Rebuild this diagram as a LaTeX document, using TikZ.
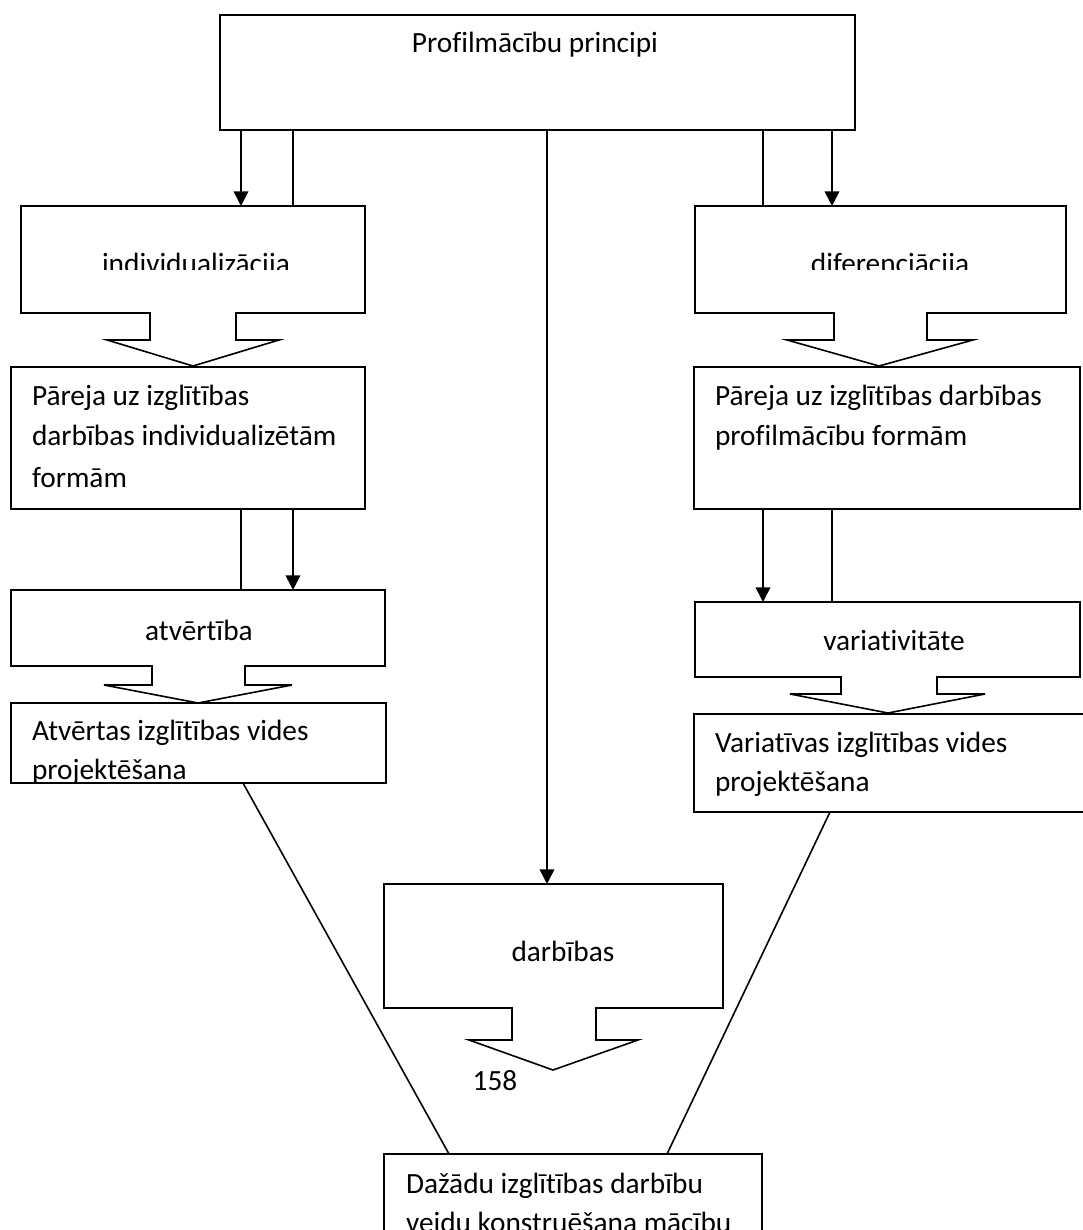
\documentclass[tikz,border=0pt]{standalone}
\usepackage{fontspec}
\setmainfont{Carlito}[Ligatures=CommonOff]
\usetikzlibrary{arrows.meta,fit}
\begin{document}
\begin{tikzpicture}[x=0.75pt,y=-0.75pt,
  line width=1.2pt, line join=miter,
  every node/.style={inner sep=0pt, outer sep=0pt},
  frame/.style={draw, inner sep=0pt},
  hold/.style={inner sep=0pt},
  lbl/.style={font=\fontsize{22}{26}\selectfont, anchor=base},
  lbll/.style={font=\fontsize{22}{26}\selectfont, anchor=base west},
  arr/.style={-{Triangle[length=11pt,width=11pt]}},
]
\useasboundingbox[fill=white] (0,0) rectangle (1082,1230);

% ---- plain boxes
\node[frame, fit={(220,15) (855,130)}] (top) {};
\node[frame, fit={(11,367) (365,509)}] (pl) {};
\node[frame, fit={(694,367) (1080,509)}] (pr) {};
\node[frame, fit={(11,703) (386,783)}] (open) {};
\node[frame, fit={(694,714) (1100,812)}] (varenv) {};
\node[frame, fit={(384,1154) (762,1260)}] (build) {};

% ---- boxes with a block arrow underneath (outline drawn below)
\node[hold, fit={(21,206) (365,313)}] (ind) {};
\node[hold, fit={(695,206) (1066,313)}] (dif) {};
\node[hold, fit={(11,590) (385,666)}] (atv) {};
\node[hold, fit={(695,602) (1080,677)}] (var) {};
\node[hold, fit={(384,884) (723,1008)}] (act) {};

\draw (21,206) -- (365,206) -- (365,313) -- (236,313) -- (236,340) -- (279,340)
  -- (193,366) -- (107,340) -- (150,340) -- (150,313) -- (21,313) -- cycle;
\draw (695,206) -- (1066,206) -- (1066,313) -- (927,313) -- (927,340) -- (973,340)
  -- (879,366) -- (787,340) -- (834,340) -- (834,313) -- (695,313) -- cycle;
\draw (11,590) -- (385,590) -- (385,666) -- (245,666) -- (245,685) -- (292,685)
  -- (198,703) -- (104,685) -- (152,685) -- (152,666) -- (11,666) -- cycle;
\draw (695,602) -- (1080,602) -- (1080,677) -- (937,677) -- (937,694) -- (985,694)
  -- (888,713) -- (790,694) -- (841,694) -- (841,677) -- (695,677) -- cycle;
\draw (384,884) -- (723,884) -- (723,1008) -- (596,1008) -- (596,1040) -- (638,1040)
  -- (553,1070) -- (469,1040) -- (512,1040) -- (512,1008) -- (384,1008) -- cycle;

% ---- connector columns
\coordinate (c1) at (241,0);
\coordinate (c2) at (293,0);
\coordinate (c3) at (547,0);
\coordinate (c4) at (763,0);
\coordinate (c5) at (832,0);

\draw[arr] (top.south -| c1) -- (ind.north -| c1);
\draw      (top.south -| c2) -- (ind.north -| c2);
\draw[arr] (top.south -| c3) -- (act.north -| c3);
\draw      (top.south -| c4) -- (dif.north -| c4);
\draw[arr] (top.south -| c5) -- (dif.north -| c5);

\draw      (pl.south -| c1) -- (atv.north -| c1);
\draw[arr] (pl.south -| c2) -- (atv.north -| c2);
\draw[arr] (pr.south -| c4) -- (var.north -| c4);
\draw      (pr.south -| c5) -- (var.north -| c5);

\coordinate (oa) at (243,0);
\coordinate (ob) at (449,0);
\coordinate (va) at (830,0);
\coordinate (vb) at (667,0);
\draw (open.south -| oa) -- (build.north -| ob);
\draw (varenv.south -| va) -- (build.north -| vb);

% ---- texts
\node[lbl] (ttop) at (535,53) {Profilmācību principi};
\begin{scope}
  \clip (0,0) rectangle (1082,270);
  \node[lbl] (tind) at (196,274) {individualizācija};
  \node[lbl] (tdif) at (890,274) {diferenciācija};
\end{scope}
\node[lbll] (tpl1) at (32,405) {Pāreja uz izglītības};
\node[lbll] (tpl2) at (32,445) {darbības individualizētām};
\node[lbll] (tpl3) at (32,487) {formām};
\node[lbll] (tpr1) at (715,405) {Pāreja uz izglītības darbības};
\node[lbll] (tpr2) at (715,445) {profilmācību formām};
\node[lbl] (tatv) at (199,640) {atvērtība};
\node[lbl] (tvar) at (894,650) {variativitāte};
\begin{scope}
  \clip (12,704) rectangle (385,782);
  \node[lbll] (top1) at (32,740) {Atvērtas izglītības vides};
  \node[lbll] (top2) at (32,779) {projektēšana};
\end{scope}
\node[lbll] (tve1) at (715,752) {Variatīvas izglītības vides};
\node[lbll] (tve2) at (715,791) {projektēšana};
\node[lbl] (tact) at (563,961) {darbības};
\node[lbl] (tnum) at (495,1090) {158};
\node[lbll] (tbu1) at (406,1193) {Dažādu izglītības darbību};
\node[lbll] (tbu2) at (406,1232) {veidu konstruēšana mācību};
\end{tikzpicture}
\end{document}
